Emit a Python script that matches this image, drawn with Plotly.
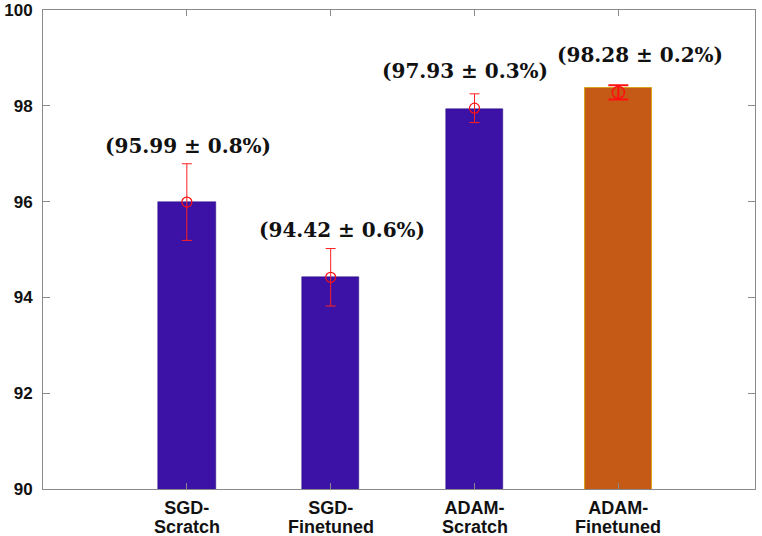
import plotly.graph_objects as go

cat_line1 = ["SGD-", "SGD-", "ADAM-", "ADAM-"]
cat_line2 = ["Scratch", "Finetuned", "Scratch", "Finetuned"]
bar_values = [95.99, 94.42, 97.94, 98.38]
mean_values = [95.99, 94.42, 97.95, 98.28]
error_values = [0.8, 0.6, 0.3, 0.15]
labels = ["(95.99 ± 0.8%)", "(94.42 ± 0.6%)", "(97.93 ± 0.3%)", "(98.28 ± 0.2%)"]
y_ticks = [90, 92, 94, 96, 98, 100]

positions = list(range(1, len(cat_line1) + 1))
blue_idx = [0, 1, 2]
orange_idx = [3]

fig = go.Figure()
fig.add_trace(go.Bar(
    x=[positions[i] for i in blue_idx], y=[bar_values[i] for i in blue_idx],
    width=0.4, marker=dict(color="#3B12A5", line=dict(color="#2A0C80", width=0.5)),
    showlegend=False))
fig.add_trace(go.Bar(
    x=[positions[i] for i in orange_idx], y=[bar_values[i] for i in orange_idx],
    width=0.47, marker=dict(color="#C55A17", line=dict(color="#D9A21B", width=1)),
    showlegend=False))
fig.add_trace(go.Scatter(
    x=[positions[i] for i in blue_idx], y=[mean_values[i] for i in blue_idx],
    mode="markers",
    marker=dict(symbol="circle-open", size=10, color="#FF1010", line=dict(width=1.2)),
    error_y=dict(type="data", array=[error_values[i] for i in blue_idx],
                 color="#FF2020", thickness=1, width=5),
    showlegend=False))
fig.add_trace(go.Scatter(
    x=[positions[i] for i in orange_idx], y=[mean_values[i] for i in orange_idx],
    mode="markers",
    marker=dict(symbol="circle-open", size=12, color="#FF1010", line=dict(width=1.5)),
    error_y=dict(type="data", array=[error_values[i] for i in orange_idx],
                 color="#FF1010", thickness=2, width=10),
    showlegend=False))

x_shifts = [1, 11, -10, 22]
y_shifts = [18, 19, 23, 30]
for i, lab in enumerate(labels):
    fig.add_annotation(
        x=positions[i], y=mean_values[i] + error_values[i], text=lab,
        showarrow=False, xanchor="center", yanchor="middle",
        xshift=x_shifts[i], yshift=y_shifts[i],
        font=dict(family="DejaVu Serif", size=20, color="#111111", weight="bold"))

tick_font = dict(family="Liberation Sans", size=18, color="#111111")
for i, txt in enumerate(cat_line2):
    fig.add_annotation(
        x=positions[i], y=0, xref="x", yref="paper", text="<b>" + txt + "</b>",
        showarrow=False, xanchor="center", yanchor="top", yshift=-30,
        height=14, valign="middle", borderpad=0,
        font=tick_font)

fig.update_layout(
    width=762, height=536,
    margin=dict(l=43, r=7, t=10, b=47, autoexpand=False),
    paper_bgcolor="white", plot_bgcolor="white",
    bargap=0,
    xaxis=dict(range=[0, 4.95], tickvals=positions,
               ticktext=["<b>" + c + "</b>" for c in cat_line1],
               showline=True, linecolor="#8A8A8A", linewidth=1, mirror="allticks",
               ticks="inside", ticklen=6, tickcolor="#8A8A8A", showgrid=False,
               zeroline=False, automargin=False, ticklabelstandoff=2,
               tickfont=tick_font),
    yaxis=dict(range=[90, 100], tickvals=y_ticks,
               ticktext=["<b>%d</b>" % t for t in y_ticks],
               showline=True, linecolor="#8A8A8A", linewidth=1, mirror="allticks",
               ticks="inside", ticklen=7, tickcolor="#8A8A8A", showgrid=False,
               zeroline=False, automargin=False, ticklabelstandoff=6,
               tickfont=dict(family="Liberation Sans", size=17, color="#111111")),
)

fig.write_html("out.html", config={"displayModeBar": False},
               post_script="document.body.style.margin='0';")
